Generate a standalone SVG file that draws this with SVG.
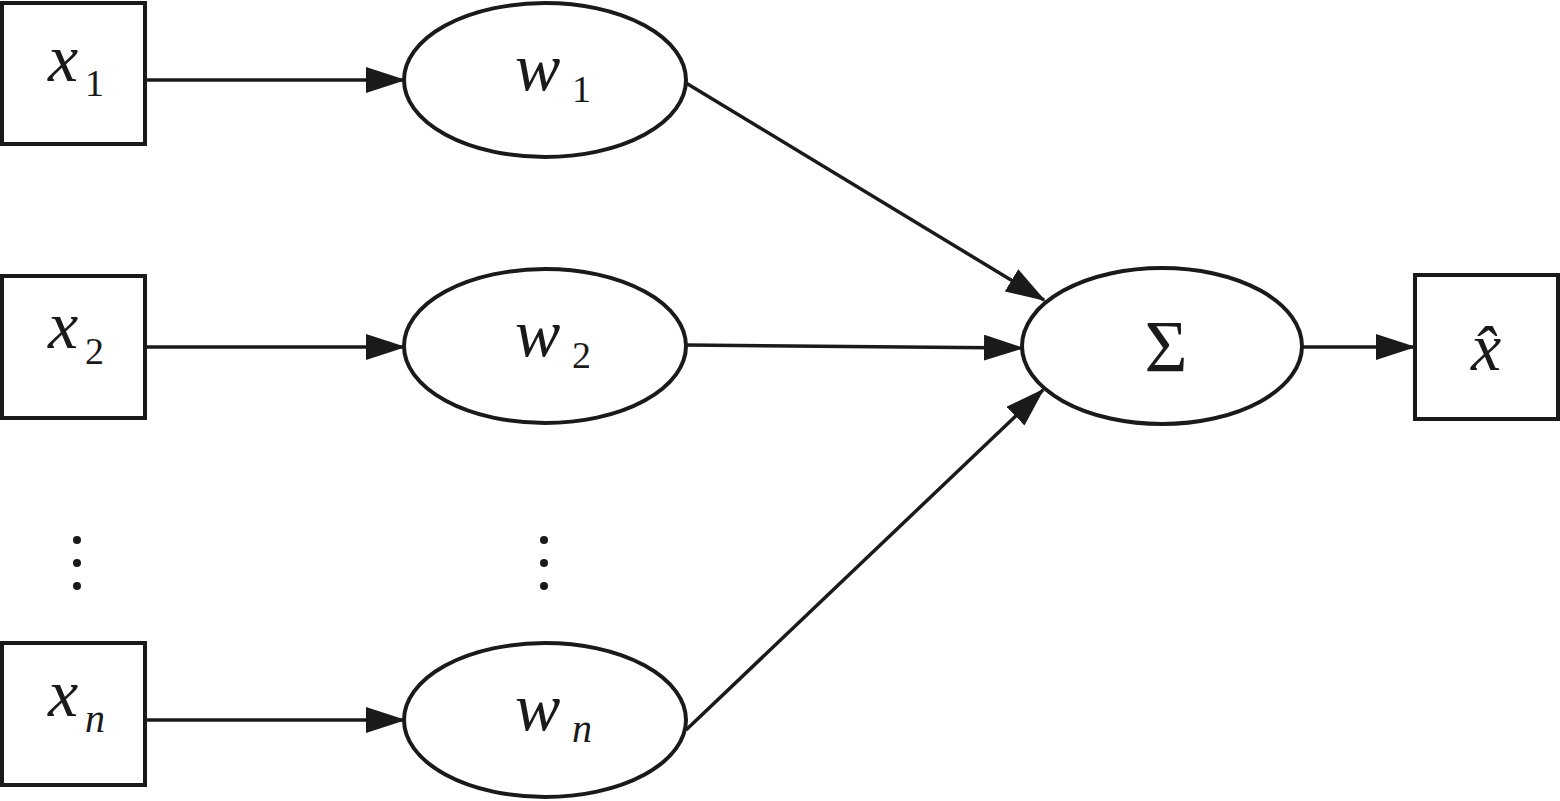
<svg xmlns="http://www.w3.org/2000/svg" width="1560" height="801" viewBox="0 0 1560 801">
<style>
.n{fill:#fff;stroke:#1a1a1a;stroke-width:4}
.e{stroke:#1a1a1a;stroke-width:3.5;fill:none}
text{font-family:"Liberation Serif","DejaVu Serif",serif;fill:#1a1a1a}
.t{font-style:italic;font-size:68px}
.s{font-size:38px}
.si{font-style:italic;font-size:40px}
.d{fill:#1a1a1a}
</style>
<defs>
<marker id="a" markerWidth="40" markerHeight="26" refX="38" refY="13" orient="auto" markerUnits="userSpaceOnUse">
<path d="M0,0 L40,13 L0,26 Z" fill="#1a1a1a"/>
</marker>
</defs>
<g id="connectors">
<line class="e" x1="145" y1="80" x2="404" y2="80" marker-end="url(#a)"/>
<line class="e" x1="145" y1="347" x2="404" y2="347" marker-end="url(#a)"/>
<line class="e" x1="145" y1="720" x2="404" y2="720" marker-end="url(#a)"/>
<line class="e" x1="686" y1="83" x2="1044" y2="300" marker-end="url(#a)"/>
<line class="e" x1="686" y1="345" x2="1022" y2="348" marker-end="url(#a)"/>
<line class="e" x1="686" y1="730" x2="1043" y2="390" marker-end="url(#a)"/>
<line class="e" x1="1303" y1="347" x2="1414" y2="347" marker-end="url(#a)"/>
</g>
<g id="x1"><rect class="n" x="2" y="3" width="143" height="141"/><text class="t" x="48" y="81">x</text><text class="s" x="85" y="96">1</text></g>
<g id="x2"><rect class="n" x="2" y="276" width="143" height="142"/><text class="t" x="48" y="348">x</text><text class="s" x="85" y="364">2</text></g>
<g id="xn"><rect class="n" x="2" y="643" width="143" height="142"/><text class="t" x="48" y="716">x</text><text class="si" x="85" y="732">n</text></g>
<g id="w1"><ellipse class="n" cx="545" cy="80" rx="141" ry="77"/><text class="t" x="515" y="90">w</text><text class="s" x="572" y="102">1</text></g>
<g id="w2"><ellipse class="n" cx="545" cy="346" rx="141" ry="77"/><text class="t" x="515" y="356">w</text><text class="s" x="572" y="368">2</text></g>
<g id="wn"><ellipse class="n" cx="545" cy="720" rx="141" ry="77"/><text class="t" x="515" y="730">w</text><text class="si" x="572" y="742">n</text></g>
<g id="sum"><ellipse class="n" cx="1162" cy="346" rx="140" ry="78"/><text x="1166" y="372" text-anchor="middle" style="font-size:74px">Σ</text></g>
<g id="xhat"><rect class="n" x="1415" y="275" width="143" height="144"/><text class="t" x="1486" y="370" text-anchor="middle">x̂</text></g>
<g id="dots">
<circle class="d" cx="77" cy="540" r="4"/><circle class="d" cx="77" cy="563" r="4"/><circle class="d" cx="77" cy="586" r="4"/>
<circle class="d" cx="544" cy="540" r="4"/><circle class="d" cx="544" cy="563" r="4"/><circle class="d" cx="544" cy="586" r="4"/>
</g>
</svg>
